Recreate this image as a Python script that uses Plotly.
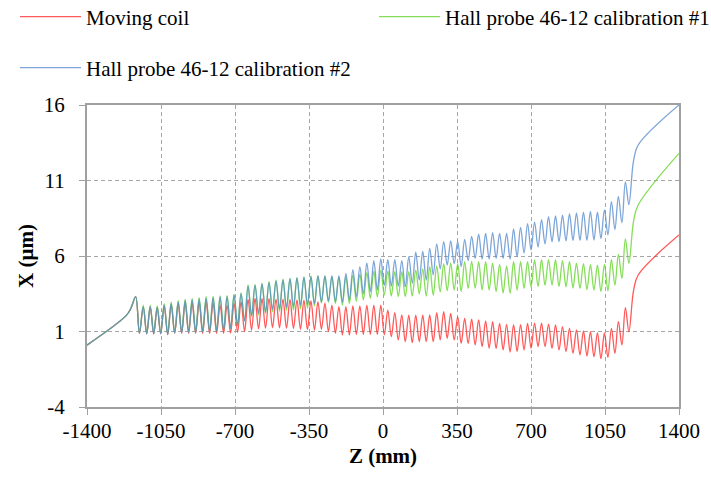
import numpy as np
import plotly.graph_objects as go

# ---------------- data ----------------
SERIES_NAMES = ["Moving coil", "Hall probe 46-12 calibration #1", "Hall probe 46-12 calibration #2"]

# shared lead-in before the periodic part (all three curves coincide)
LEAD_Z = [-1400, -1215, -1192, -1170, -1152]
LEAD_X = [0.1, 2.05, 2.55, 3.31, 0.88]

# periodic part: one peak and the following trough per period
FIRST_PEAK_Z = -1134.0
PERIOD_Z = 33.05
N_PERIODS = 70

RED_PEAKS = [2.62, 2.62, 2.58, 2.72, 2.78, 2.83, 2.88, 2.9, 2.93, 2.95, 2.9, 2.75,
             2.75, 2.87, 2.98, 3.13, 3.2, 3.2, 3.2, 3.15, 3.15, 3.12, 3.09, 3.08, 3.05, 2.98,
             2.87, 2.75, 2.64, 2.64, 2.7, 2.7, 2.75, 2.75, 2.75, 2.42, 2.25, 2.1, 2.09,
             2.09, 2.09, 2.1, 2.25, 2.31, 2.2, 1.98, 1.87, 1.82, 1.76, 1.71, 1.65, 1.54, 1.47,
             1.46, 1.46, 1.54, 1.56, 1.56, 1.48, 1.43, 1.32, 1.21, 1.1, 1.04, 0.99, 0.9, 0.9,
             1.21, 1.65, 2.58]
RED_TROUGHS = [0.85, 0.85, 0.85, 0.78, 0.88, 0.88, 0.88, 0.88, 0.88, 0.88, 0.88, 0.88,
               0.9, 0.95, 1.0, 1.1, 1.18, 1.22, 1.25, 1.25, 1.22, 1.2, 1.15, 1.12, 1.1, 1.15,
               1.0, 0.88, 0.77, 0.77, 0.8, 0.8, 0.8, 0.8, 0.78, 0.66, 0.44, 0.33, 0.25,
               0.33, 0.33, 0.33, 0.44, 0.55, 0.44, 0.22, 0.2, 0.11, 0.0, -0.11, -0.13, -0.22, -0.36,
               -0.33, -0.22, -0.11, 0.0, 0.0, -0.11, -0.22, -0.33, -0.44, -0.55, -0.62, -0.67, -0.8, -0.72,
               -0.44, 0.11, 0.99]
GREEN_PEAKS = [2.75, 2.75, 2.7, 2.85, 2.95, 3.05, 3.13, 3.18, 3.25, 3.3, 3.33, 3.35,
               3.38, 3.45, 3.55, 4.08, 4.12, 4.2, 4.3, 4.4, 4.46, 4.52, 4.57, 4.62, 4.66, 4.7,
               4.68, 4.65, 4.6, 4.65, 4.74, 4.8, 4.9, 5.0, 5.07, 5.0, 4.96, 4.96, 4.96,
               5.07, 5.15, 5.29, 5.35, 5.5, 5.55, 5.5, 5.62, 5.65, 5.62, 5.62, 5.52, 5.45, 5.35,
               5.62, 5.62, 5.62, 5.74, 5.76, 5.76, 5.74, 5.7, 5.62, 5.52, 5.5, 5.42, 5.4, 5.45,
               5.75, 6.1, 7.13]
GREEN_TROUGHS = [0.88, 0.88, 0.88, 0.82, 0.92, 0.95, 0.97, 0.98, 1.0, 1.02, 1.05, 1.1,
                 1.2, 1.4, 1.7, 2.0, 2.1, 2.2, 2.3, 2.35, 2.4, 2.42, 2.5, 2.55, 2.7, 2.9,
                 2.95, 2.85, 2.75, 2.85, 3.0, 3.1, 3.2, 3.3, 3.42, 3.35, 3.31, 3.31, 3.35,
                 3.5, 3.35, 3.4, 3.62, 3.7, 3.75, 3.65, 3.85, 3.86, 3.76, 3.75, 3.65, 3.55, 3.53,
                 3.75, 3.86, 3.95, 3.97, 4.06, 4.08, 3.98, 3.96, 3.88, 3.85, 3.77, 3.74, 3.64, 3.7,
                 4.08, 4.52, 5.51]
BLUE_PEAKS = [2.65, 2.65, 2.6, 2.75, 2.85, 2.95, 3.05, 3.1, 3.15, 3.2, 3.25, 3.28,
              3.3, 3.4, 3.5, 4.0, 4.05, 4.15, 4.25, 4.35, 4.42, 4.5, 4.55, 4.6, 4.65, 4.68,
              4.68, 4.68, 4.68, 4.85, 5.1, 5.3, 5.55, 5.7, 5.8, 5.75, 5.75, 5.7, 5.95,
              6.25, 6.3, 6.5, 6.8, 6.95, 7.0, 6.95, 7.1, 7.3, 7.45, 7.5, 7.55, 7.5, 7.5,
              7.8, 7.9, 8.15, 8.25, 8.4, 8.6, 8.65, 8.7, 8.8, 8.85, 8.9, 8.95, 8.9, 9.05,
              9.6, 9.95, 10.9]
BLUE_TROUGHS = [0.85, 0.85, 0.85, 0.8, 0.9, 0.92, 0.95, 0.95, 0.98, 1.0, 1.05, 1.1,
                1.2, 1.4, 1.7, 2.05, 2.2, 2.3, 2.45, 2.5, 2.6, 2.65, 2.75, 2.8, 2.85, 2.95,
                3.0, 2.98, 2.95, 3.1, 3.3, 3.5, 3.65, 3.75, 4.05, 4.0, 4.0, 3.95, 4.2,
                4.4, 4.4, 4.75, 5.15, 5.4, 5.5, 5.3, 5.7, 5.85, 5.8, 5.8, 5.85, 5.85, 5.8,
                5.95, 6.2, 6.4, 6.6, 6.8, 6.95, 6.95, 7.0, 7.02, 7.03, 7.03, 7.06, 7.15, 7.4,
                7.75, 8.2, 9.4]

# tail after the periodic part
TAIL_Z = [1185, 1207, 1400]
RED_TAIL = [3.7, 4.74, 7.39]
GREEN_TAIL = [8.3, 9.38, 12.8]
BLUE_TAIL = [12.3, 13.35, 16.0]

X_TICKS = [-1400, -1050, -700, -350, 0, 350, 700, 1050, 1400]
Y_TICKS = [-4, 1, 6, 11, 16]

COLORS = ["#FF3030", "#66D62E", "#5C8FD0"]

# ---------------- build ----------------
peak_z = FIRST_PEAK_Z + PERIOD_Z * np.arange(N_PERIODS)
trough_z = peak_z + PERIOD_Z / 2


def series(peaks, troughs, tail):
    z = list(LEAD_Z)
    v = list(LEAD_X)
    for pz, tz, p, t in zip(peak_z, trough_z, peaks, troughs):
        z += [float(pz), float(tz)]
        v += [p, t]
    z += TAIL_Z
    v += tail
    return z, v


data = [
    series(RED_PEAKS, RED_TROUGHS, RED_TAIL),
    series(GREEN_PEAKS, GREEN_TROUGHS, GREEN_TAIL),
    series(BLUE_PEAKS, BLUE_TROUGHS, BLUE_TAIL),
]

FONT = "Liberation Serif"
fig = go.Figure()
legends = ["legend", "legend2", "legend3"]
for (z, v), name, col, lg in zip(data, SERIES_NAMES, COLORS, legends):
    fig.add_trace(go.Scatter(x=z, y=v, mode="lines", name=name, legend=lg,
                             line=dict(color=col, width=1.3, shape="spline", smoothing=1.0),
                             opacity=0.8))

W, H = 711, 483
L, R, T, B = 87, 32, 105, 76
pw, ph = W - L - R, H - T - B

def px_x(p):
    return (p - L) / pw

def px_y(p):
    return (H - B - p) / ph

axis_common = dict(
    showline=True, linecolor="#a0a0a0", linewidth=2, mirror=True,
    showgrid=True, gridcolor="#a6a6a6", gridwidth=1, griddash="4px,3px",
    ticks="outside", ticklen=6, tickcolor="#a0a0a0", tickwidth=1,
    tickfont=dict(family=FONT, size=21, color="black"),
    zeroline=False,
)

legend_common = dict(orientation="h", xanchor="left", yanchor="middle", itemwidth=61,
                     font=dict(family=FONT, size=21, color="black"), bgcolor="rgba(0,0,0,0)")

fig.update_layout(
    width=W, height=H,
    margin=dict(l=L, r=R, t=T, b=B, pad=0, autoexpand=False),
    paper_bgcolor="white", plot_bgcolor="white",
    font=dict(family=FONT, size=21, color="black"),
    xaxis=dict(range=[-1400, 1400], tickmode="array", tickvals=X_TICKS,
               ticktext=[str(t) for t in X_TICKS], ticklabelstandoff=-2,
               title=dict(text="<b>Z (mm)</b>", font=dict(family=FONT, size=21), standoff=6),
               **axis_common),
    yaxis=dict(range=[-4, 16], tickmode="array", tickvals=Y_TICKS,
               ticktext=[str(t) for t in Y_TICKS], ticklabelstandoff=10,
               title=dict(text="<b>X (μm)</b>", font=dict(family=FONT, size=21), standoff=4),
               **axis_common),
    legend=dict(x=px_x(15), y=px_y(17), **legend_common),
    legend2=dict(x=px_x(374), y=px_y(17), **legend_common),
    legend3=dict(x=px_x(15), y=px_y(68), **legend_common),
    showlegend=True,
)

fig.write_html("out.html")
